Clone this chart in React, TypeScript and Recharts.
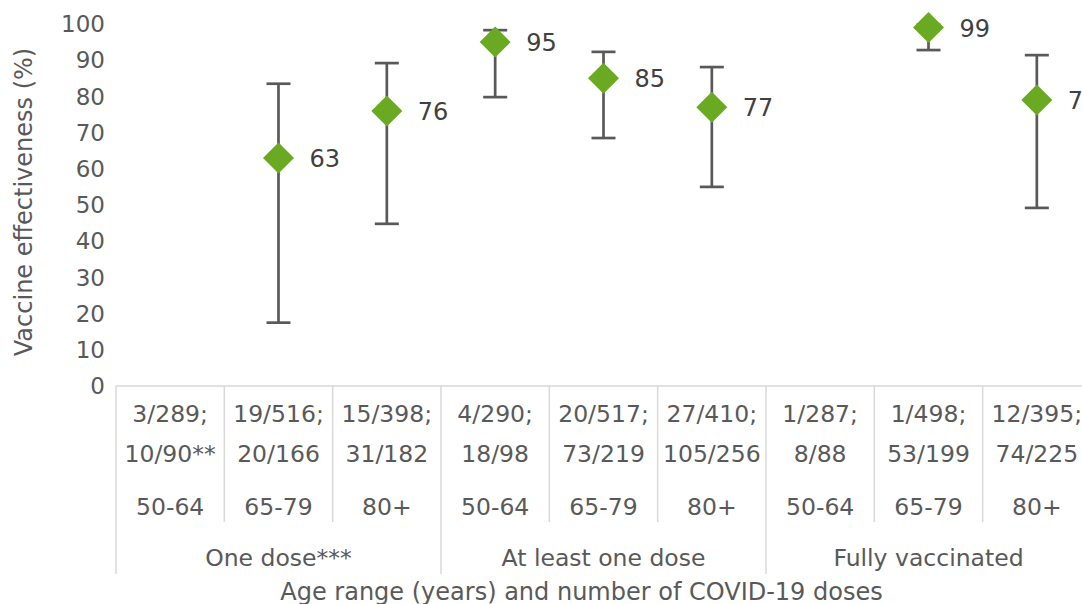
import React from 'react';
import { ComposedChart, Line, XAxis, YAxis, ErrorBar, LabelList } from 'recharts';

// one entry per category (9 columns, 3 dose groups x 3 age ranges)
const ageRanges = ['50-64', '65-79', '80+', '50-64', '65-79', '80+', '50-64', '65-79', '80+'];
const caseCounts = [
  ['3/289;', '10/90**'],
  ['19/516;', '20/166'],
  ['15/398;', '31/182'],
  ['4/290;', '18/98'],
  ['20/517;', '73/219'],
  ['27/410;', '105/256'],
  ['1/287;', '8/88'],
  ['1/498;', '53/199'],
  ['12/395;', '74/225'],
];
const doseGroups = ['One dose***', 'At least one dose', 'Fully vaccinated'];
const effectiveness = [null, 63, 76, 95, 85, 77, null, 99, 79];
const ciLower = [null, 17.5, 44.8, 79.8, 68.5, 55, null, 92.8, 49.2];
const ciUpper = [null, 83.5, 89.2, 98.3, 92.3, 88.1, null, 99.8, 91.4];
const yTicks = [0, 10, 20, 30, 40, 50, 60, 70, 80, 90, 100];

const FONT = '"DejaVu Sans", sans-serif';
const GREEN = '#6aaa22';
const TEXT = '#595959';
const GRID = '#d9d9d9';

const CHART_W = 1100;
const CHART_H = 604;
const MARGIN = { top: 24, right: 9, bottom: 0, left: 0 };
const Y_W = 116;
const PLOT_W = CHART_W - MARGIN.left - MARGIN.right - Y_W;
const BAND = PLOT_W / ageRanges.length;

const data = ageRanges.map((age, i) => {
  const ve = effectiveness[i];
  return {
    idx: i,
    ve,
    err: ve == null ? undefined : [ve - (ciLower[i] as number), (ciUpper[i] as number) - ve],
  };
});

const Diamond = (props: any) => {
  const { cx, cy, value } = props;
  if (value == null || cx == null || cy == null) return null;
  const r = 15.5;
  return (
    <polygon
      points={`${cx},${cy - r} ${cx + r},${cy} ${cx},${cy + r} ${cx - r},${cy}`}
      fill={GREEN}
    />
  );
};

const PointLabel = (props: any) => {
  const { x, y, value } = props;
  if (value == null) return null;
  return (
    <text x={x + 31} y={y + 9} fill="#404040" fontSize={24} fontFamily={FONT}>
      {value}
    </text>
  );
};

const CategoryTick = (props: any) => {
  const { x, y, payload } = props;
  const i = payload.value as number;
  const left = x - BAND / 2;
  const groupStart = i % 3 === 0;
  const last = i === ageRanges.length - 1;
  return (
    <g>
      <line x1={left} x2={left} y1={y} y2={y + (groupStart ? 188 : 136)} stroke={GRID} strokeWidth={1.5} />
      {last && (
        <line x1={x + BAND / 2} x2={x + BAND / 2} y1={y} y2={y + 188} stroke={GRID} strokeWidth={1.5} />
      )}
      <text textAnchor="middle" fill={TEXT} fontSize={23.5} fontFamily={FONT}>
        <tspan x={x} y={y + 36}>{caseCounts[i][0]}</tspan>
        <tspan x={x} y={y + 76}>{caseCounts[i][1]}</tspan>
        <tspan x={x} y={y + 129}>{ageRanges[i]}</tspan>
      </text>
      {i % 3 === 1 && (
        <text x={x} y={y + 180} textAnchor="middle" fill={TEXT} fontSize={23.5} fontFamily={FONT}>
          {doseGroups[Math.floor(i / 3)]}
        </text>
      )}
    </g>
  );
};

const YTitle = (props: any) => {
  const { viewBox } = props;
  const cy = viewBox.y + viewBox.height / 2 - 3;
  return (
    <text
      x={24}
      y={cy}
      transform={`rotate(-90, 24, ${cy})`}
      textAnchor="middle"
      dominantBaseline="central"
      fill={TEXT}
      fontSize={24}
      fontFamily={FONT}
    >
      Vaccine effectiveness (%)
    </text>
  );
};

const XTitle = (props: any) => {
  const { viewBox } = props;
  const cx = viewBox.x + viewBox.width / 2 - 22;
  return (
    <text x={cx} y={CHART_H - 4} textAnchor="middle" fill={TEXT} fontSize={24} fontFamily={FONT}>
      Age range (years) and number of COVID-19 doses
    </text>
  );
};

export default function App() {
  return (
    <div style={{ position: 'absolute', left: 0, top: 0, width: 1082, height: 604, overflow: 'hidden', background: '#fff' }}>
      <ComposedChart width={CHART_W} height={CHART_H} data={data} margin={MARGIN}>
        <XAxis
          dataKey="idx"
          type="category"
          scale="band"
          height={CHART_H - MARGIN.top - 362}
          axisLine={{ stroke: GRID, strokeWidth: 1.5 }}
          tickLine={false}
          tickSize={0}
          tickMargin={0}
          interval={0}
          tick={<CategoryTick />}
          label={<XTitle />}
        />
        <YAxis
          width={Y_W}
          domain={[0, 100]}
          ticks={yTicks}
          axisLine={false}
          tickLine={false}
          tickMargin={5}
          tick={{ fill: TEXT, fontSize: 23, fontFamily: FONT }}
          label={<YTitle />}
        />
        <Line
          dataKey="ve"
          stroke="none"
          isAnimationActive={false}
          dot={<Diamond />}
          activeDot={false}
          connectNulls={false}
        >
          <ErrorBar dataKey="err" direction="y" width={12} strokeWidth={2.7} stroke="#595959" />
          <LabelList dataKey="ve" content={<PointLabel />} />
        </Line>
      </ComposedChart>
    </div>
  );
}
